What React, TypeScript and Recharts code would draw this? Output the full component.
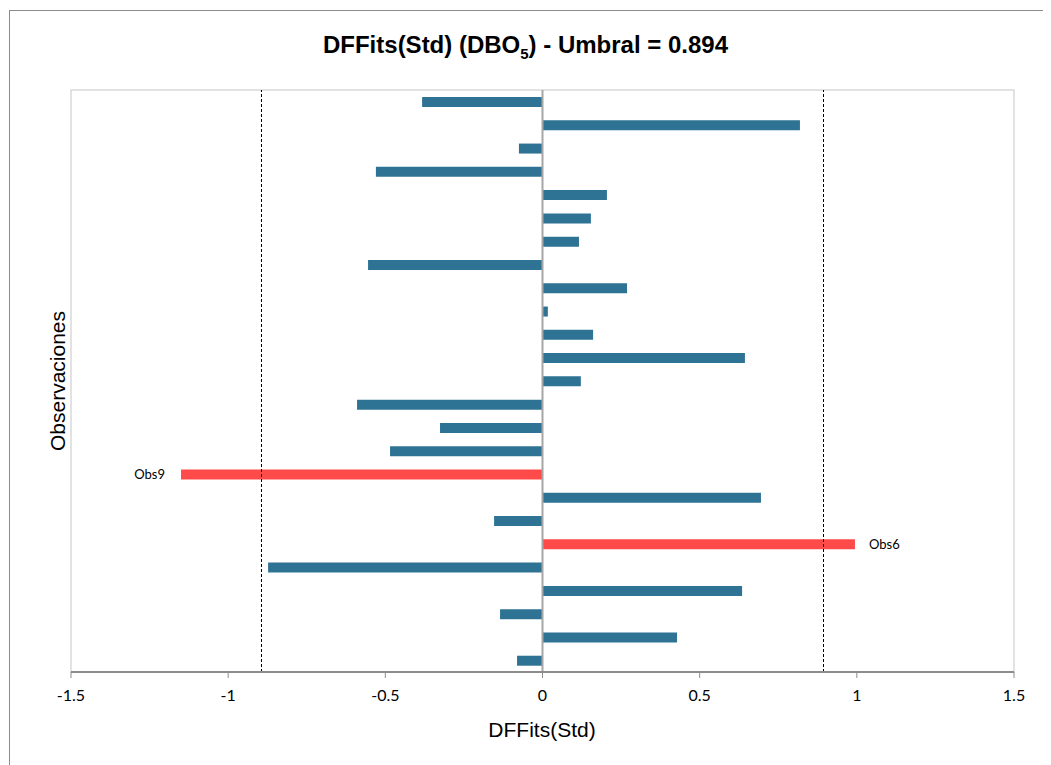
import { Bar, BarChart, Cell, LabelList, ReferenceArea, ReferenceLine, XAxis, YAxis } from 'recharts';

// Observaciones, de abajo (Obs1) hacia arriba (Obs25)
const observations = [
  'Obs1', 'Obs2', 'Obs3', 'Obs4', 'Obs5', 'Obs6', 'Obs7', 'Obs8', 'Obs9', 'Obs10',
  'Obs11', 'Obs12', 'Obs13', 'Obs14', 'Obs15', 'Obs16', 'Obs17', 'Obs18', 'Obs19', 'Obs20',
  'Obs21', 'Obs22', 'Obs23', 'Obs24', 'Obs25',
];

const dffits = [
  -0.081, 0.428, -0.135, 0.635, -0.873, 0.994, -0.154, 0.695, -1.15, -0.485,
  -0.326, -0.59, 0.122, 0.644, 0.161, 0.017, 0.269, -0.555, 0.116, 0.154,
  0.205, -0.53, -0.075, 0.819, -0.383,
];

const umbral = 0.894;
const xTicks = [-1.5, -1, -0.5, 0, 0.5, 1, 1.5];

const data = observations.map((name, i) => ({
  name,
  value: dffits[i],
  flagged: Math.abs(dffits[i]) > umbral,
}));

const ObsLabel = (props: any) => {
  const { x, y, width, height, index } = props;
  const d = data[index];
  if (!d || !d.flagged) return null;
  const cy = y + height / 2;
  if (d.value < 0) {
    const left = Math.min(x, x + width);
    return (
      <text x={left - 16} y={cy} textAnchor="end" dominantBaseline="central"
        fontFamily="Lato" fontSize={13} fill="#000">
        {d.name}
      </text>
    );
  }
  return (
    <text x={x + width + 14} y={cy} textAnchor="start" dominantBaseline="central"
      fontFamily="Lato" fontSize={13} fill="#000">
      {d.name}
    </text>
  );
};

export default function App() {
  return (
    <div style={{ position: 'relative', width: 1043, height: 757 }}>
      <div
        style={{
          position: 'absolute',
          left: 1,
          top: 2,
          right: 0,
          bottom: 0,
          borderLeft: '1px solid #8c8c8c',
          borderTop: '1px solid #8c8c8c',
        }}
      />
      <div
        style={{
          position: 'absolute',
          left: 0,
          width: 1035,
          top: 22,
          textAlign: 'center',
          fontFamily: '"Liberation Sans", Arial, sans-serif',
          fontWeight: 'bold',
          fontSize: 24,
          lineHeight: '30px',
        }}
      >
        DFFits(Std) (DBO<sub style={{ fontSize: 15, lineHeight: 0 }}>5</sub>) - Umbral = 0.894
      </div>
      <div
        style={{
          position: 'absolute',
          left: 50,
          top: 373,
          transform: 'translate(-50%, -50%) rotate(-90deg)',
          fontFamily: '"Liberation Sans", Arial, sans-serif',
          fontSize: 21,
          whiteSpace: 'nowrap',
        }}
      >
        Observaciones
      </div>
      <div
        style={{
          position: 'absolute',
          left: 534,
          top: 722,
          transform: 'translate(-50%, -50%)',
          fontFamily: '"Liberation Sans", Arial, sans-serif',
          fontSize: 21,
          whiteSpace: 'nowrap',
        }}
      >
        DFFits(Std)
      </div>
      <BarChart
        width={1043}
        height={757}
        data={data}
        layout="vertical"
        margin={{ top: 82, right: 37, bottom: 63, left: 63 }}
        barSize={10}
        style={{ position: 'absolute', left: 0, top: 0 }}
      >
        <ReferenceArea x1={-1.5} x2={1.5} fill="none" stroke="#d9d9d9" strokeWidth={1.5} />
        <XAxis
          type="number"
          domain={[-1.5, 1.5]}
          ticks={xTicks}
          height={30}
          axisLine={{ stroke: '#8c8c8c', strokeWidth: 2 }}
          tickLine={{ stroke: '#8c8c8c' }}
          tickSize={6}
          tickMargin={12}
          tick={{ fill: '#000', fontFamily: 'Lato', fontSize: 16 }}
          allowDataOverflow
        />
        <YAxis type="category" dataKey="name" reversed hide />
        <Bar dataKey="value" isAnimationActive={false}>
          {data.map((d) => (
            <Cell key={d.name} fill={d.flagged ? '#ff4a4a' : '#2e7394'} />
          ))}
          <LabelList dataKey="value" content={ObsLabel} />
        </Bar>
        <ReferenceLine x={0} stroke="#a6a6a6" strokeWidth={2} />
        <ReferenceLine x={-umbral} stroke="#000" strokeDasharray="3 2" strokeWidth={1} />
        <ReferenceLine x={umbral} stroke="#000" strokeDasharray="3 2" strokeWidth={1} />
      </BarChart>
    </div>
  );
}
